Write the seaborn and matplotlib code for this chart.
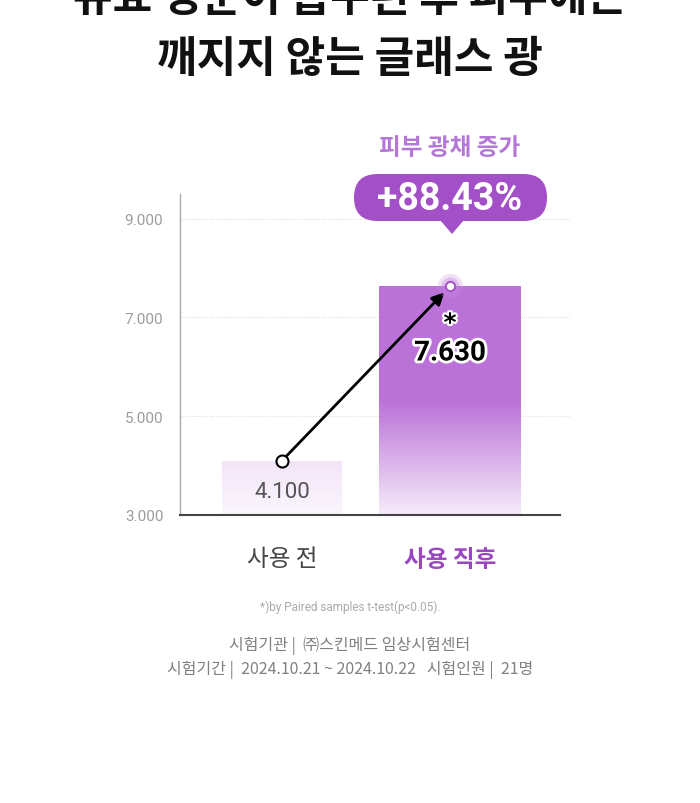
import numpy as np
import pandas as pd
import matplotlib
matplotlib.use('Agg')
import matplotlib.pyplot as plt
import matplotlib.colors as mcolors
import matplotlib.patheffects as pe
from matplotlib.patches import FancyBboxPatch, Polygon
from matplotlib.ticker import FuncFormatter
import seaborn as sns

sns.set_style('white')
plt.rcParams['font.family'] = ['Noto Sans CJK KR', 'DejaVu Sans']

# 데이터
categories = ['사용 전', '사용 직후']
values = [4100, 7630]
value_labels = ['4.100', '7.630']
increase_label = '+88.43%'
yticks = [3000, 5000, 7000, 9000]

title_lines = ['유효 성분이 흡수된 후 피부에는', '깨지지 않는 글래스 광']
badge_title = '피부 광채 증가'
footnote = '*)by Paired samples t-test(p<0.05).'
info_lines = ['시험기관 |  ㈜스킨메드 임상시험센터',
              '시험기간 |  2024.10.21 ~ 2024.10.22   시험인원 |  21명']

purple = '#a34fc8'
df = pd.DataFrame({'group': categories, 'score': values})

fig = plt.figure(figsize=(7, 8.04), dpi=100)
ax = fig.add_axes([180/700, 1 - 516/804, 390/700, (516 - 195)/804])

sns.barplot(data=df, x='group', y='score', ax=ax, color='#cccccc', width=0.8)

# 막대 폭 조정 + 그라데이션 채우기
bar_widths = [0.71, 0.84]
grad = [('#fbf6fd', '#f2e4f8', 4100), ('#f6ecfa', '#bb72d8', 5300)]
for i, p in enumerate(ax.patches[:2]):
    w = bar_widths[i]
    p.set_x(i - w / 2)
    p.set_width(w)
    p.set_facecolor('none')
    p.set_edgecolor('none')
    top = values[i]
    ys = np.linspace(3000, top, 300)
    c0 = np.array(mcolors.to_rgb(grad[i][0]))
    c1 = np.array(mcolors.to_rgb(grad[i][1]))
    t = np.clip((ys - 3000) / (grad[i][2] - 3000), 0, 1)
    img = (c0 + (c1 - c0) * t[:, None])[:, None, :]
    im = ax.imshow(img, origin='lower', extent=[i - w/2, i + w/2, 3000, top],
                   aspect='auto', zorder=1, interpolation='bilinear')
    im.set_clip_path(p)

# 화살표와 점
ax.annotate('', xy=(1, values[1]), xytext=(0, values[0]),
            arrowprops=dict(arrowstyle='-|>', color='black', lw=2,
                            mutation_scale=18, shrinkA=5, shrinkB=6), zorder=4)
ax.scatter([0], [values[0]], s=75, facecolor='white', edgecolor='black', lw=1.5, zorder=5)
ax.scatter([1], [values[1]], s=330, color='#c98be3', alpha=0.25, lw=0, zorder=5)
ax.scatter([1], [values[1]], s=170, color='#c080e0', alpha=0.35, lw=0, zorder=5)
ax.scatter([1], [values[1]], s=45, facecolor='white', edgecolor='#a855c8', lw=1.5, zorder=6)

# 값 라벨 (막대 꼭대기 기준 오프셋)
ax.annotate(value_labels[0], xy=(0, values[0]), xytext=(0, -22), textcoords='offset points',
            ha='center', va='center', fontsize=16, family='Roboto',
            color='#555555', zorder=6)
ax.annotate(value_labels[1], xy=(1, values[1]), xytext=(0, -48), textcoords='offset points',
            ha='center', va='center', fontsize=20, family='Roboto', weight='bold',
            color='black', zorder=6,
            path_effects=[pe.withStroke(linewidth=4, foreground='white')])
ax.annotate('*', xy=(1, values[1]), xytext=(0, -27), textcoords='offset points',
            ha='center', va='center', fontsize=18, family='DejaVu Sans', weight='bold',
            color='black', zorder=6,
            path_effects=[pe.withStroke(linewidth=3, foreground='white')])

ax.set_xlim(-0.607, 1.714)
ax.set_ylim(3000, 9500)
ax.set_yticks(yticks)
ax.yaxis.set_major_formatter(FuncFormatter(lambda v, _: f'{v:,.0f}'.replace(',', '.')))
ax.set_xlabel('')
ax.set_ylabel('')
ax.tick_params(axis='y', length=0, pad=12, labelsize=11, labelcolor='#9c9c9c')
ax.tick_params(axis='x', length=0, pad=23)
for lab in ax.get_yticklabels():
    lab.set_family('Roboto')
xl = ax.get_xticklabels()
xl[0].set_fontsize(17)
xl[0].set_color('#444444')
xl[1].set_fontsize(17)
xl[1].set_color('#9a45c2')
xl[1].set_fontweight('bold')

ax.yaxis.grid(True, ls=':', color='#d8d8d8', lw=0.8)
ax.set_axisbelow(True)
ax.spines['top'].set_visible(False)
ax.spines['right'].set_visible(False)
ax.spines['left'].set_color('#aaaaaa')
ax.spines['left'].set_linewidth(1)
ax.spines['bottom'].set_color('#444444')
ax.spines['bottom'].set_linewidth(1.5)
ax.spines['bottom'].set_bounds(-0.607, 1.655)

# 픽셀 좌표 오버레이 (제목, 말풍선, 주석)
ov = fig.add_axes([0, 0, 1, 1])
ov.set_xlim(0, 700)
ov.set_ylim(804, 0)
ov.set_axis_off()

ov.text(350, 11, title_lines[0], ha='center', va='baseline', fontsize=31,
        weight='bold', color='#111111')
ov.text(350, 72, title_lines[1], ha='center', va='baseline', fontsize=31,
        weight='bold', color='#111111')

ov.text(450, 148, badge_title, ha='center', va='center', fontsize=17,
        weight='bold', color='#b477d6')
ov.add_patch(FancyBboxPatch((354, 175), 193, 47,
                            boxstyle='round,pad=0,rounding_size=23.5',
                            facecolor=purple, edgecolor='none'))
ov.add_patch(Polygon([(440, 221), (464, 221), (452, 235)], closed=True,
                     facecolor=purple, edgecolor='none'))
ov.text(450, 199, increase_label, ha='center', va='center', fontsize=27,
        family='Roboto', weight='bold', color='white')

ov.text(350, 607, footnote, ha='center', va='center', fontsize=8.5,
        family='Roboto', color='#ababab')
ov.text(350, 646, info_lines[0], ha='center', va='center', fontsize=11.5,
        color='#808080')
ov.text(350, 670, info_lines[1], ha='center', va='center', fontsize=11.5,
        color='#808080')

fig.savefig('out.png', dpi=100, facecolor='white')
